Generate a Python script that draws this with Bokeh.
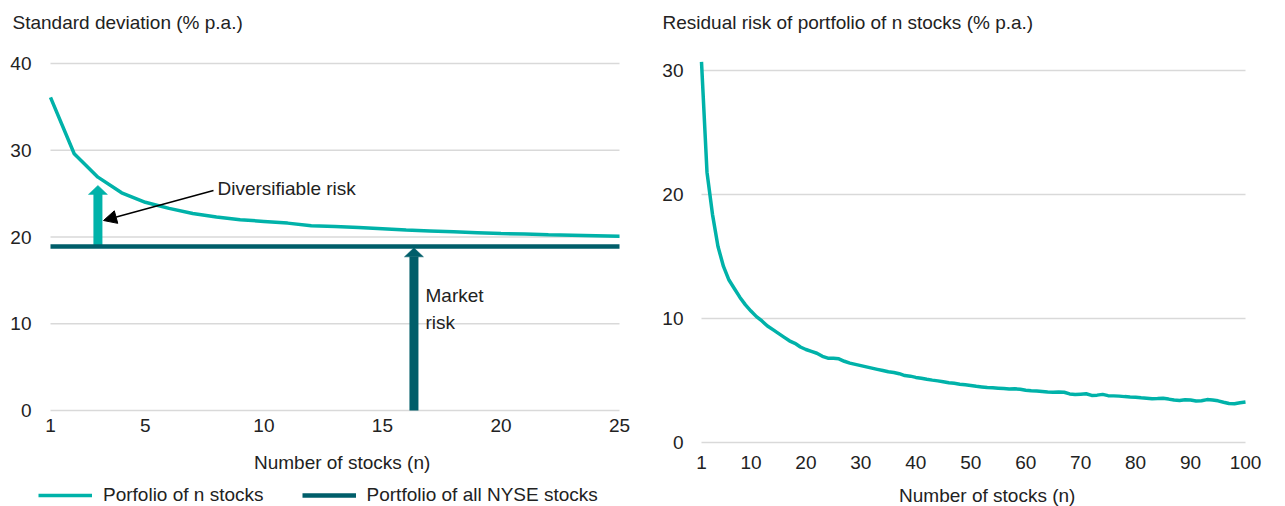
from bokeh.plotting import figure
from bokeh.models import Legend, LegendItem, Arrow, NormalHead, Range1d
from bokeh.core.properties import value
from bokeh.embed import file_html
from bokeh.resources import INLINE

# ---------------- data ----------------
n_left = list(range(1, 26))
sd_portfolio = [36.1, 29.6, 26.9, 25.1, 24.0, 23.3, 22.7, 22.3, 22.0, 21.8,
                21.6, 21.3, 21.2, 21.1, 20.95, 20.8, 20.7, 20.6, 20.5, 20.4,
                20.35, 20.25, 20.2, 20.15, 20.1]
sd_market = 18.9
left_xticks = [1, 5, 10, 15, 20, 25]
left_yticks = [0, 10, 20, 30, 40]

n_right = list(range(1, 101))
residual = [30.7, 21.8, 18.4, 15.8, 14.2, 13.1, 12.4, 11.7, 11.1, 10.6,
            10.15, 9.8, 9.4, 9.1, 8.8, 8.5, 8.2, 8.0, 7.7, 7.5,
            7.35, 7.2, 6.95, 6.8, 6.8, 6.75, 6.55, 6.4, 6.3, 6.2,
            6.1, 6.0, 5.9, 5.8, 5.7, 5.65, 5.55, 5.4, 5.35, 5.25,
            5.18, 5.1, 5.03, 4.97, 4.9, 4.82, 4.77, 4.7, 4.65, 4.6,
            4.53, 4.48, 4.43, 4.41, 4.38, 4.35, 4.31, 4.33, 4.3, 4.22,
            4.18, 4.15, 4.12, 4.08, 4.06, 4.08, 4.05, 3.92, 3.87, 3.9,
            3.93, 3.8, 3.82, 3.88, 3.78, 3.76, 3.74, 3.7, 3.67, 3.65,
            3.6, 3.56, 3.52, 3.54, 3.57, 3.5, 3.42, 3.39, 3.45, 3.42,
            3.35, 3.37, 3.46, 3.42, 3.36, 3.25, 3.15, 3.13, 3.2, 3.26]
right_xticks = [1, 10, 20, 30, 40, 50, 60, 70, 80, 90, 100]
right_yticks = [0, 10, 20, 30]

left_title = "Standard deviation (% p.a.)"
right_title = "Residual risk of portfolio of n stocks (% p.a.)"
x_title = "Number of stocks (n)"
legend_labels = ["Porfolio of n stocks", "Portfolio of all NYSE stocks"]

# annotation anchors (chart units of the left panel)
div_arrow_n, div_arrow_top = 3, 25.95
mkt_arrow_n, mkt_arrow_top = 16.33, 18.75

TEAL = "#00B2A9"
DARK = "#005E6A"
GRID = "#d9d9d9"
TXT = "#222222"
FONT = "Liberation Sans"
FS = "19px"

# ---------------- layout (page pixels) ----------------
W, H, PAGE = 1285, 506, 0
L_X1, L_X25 = 50, 619      # left panel: n=1 / n=25
L_Y0, L_Y40 = 410, 63      # left panel: 0 / 40
R_X1, R_X100 = 701, 1245   # right panel: n=1 / n=100
R_Y0, R_Y30 = 442, 70      # right panel: 0 / 30
L_PPX = (L_X25 - L_X1) / 24.0
L_PPY = (L_Y0 - L_Y40) / 40.0
R_PPX = (R_X100 - R_X1) / 99.0
R_PPY = (R_Y0 - R_Y30) / 30.0


def lx(px): return 1 + (px - L_X1) / L_PPX
def ly(py): return (L_Y0 - py) / L_PPY
def rx(px): return 1 + (px - R_X1) / R_PPX
def ry(py): return (R_Y0 - py) / R_PPY


left_edge, right_edge, top_edge, bottom_edge = PAGE, PAGE + W, PAGE, PAGE + H

p = figure(width=W, height=H, output_backend="svg", toolbar_location=None,
           x_range=Range1d(lx(left_edge), lx(right_edge)),
           y_range=Range1d(ly(bottom_edge), ly(top_edge)),
           x_axis_location=None, y_axis_location=None, min_border=0)
p.outline_line_color = None
p.xgrid.visible = False
p.ygrid.visible = False
p.extra_x_ranges = {"rx": Range1d(rx(left_edge), rx(right_edge))}
p.extra_y_ranges = {"ry": Range1d(ry(bottom_edge), ry(top_edge))}
R = dict(x_range_name="rx", y_range_name="ry")

txt = dict(text_font=value(FONT), text_font_size=value(FS), text_color=TXT, text_baseline="middle")

# ---- gridlines ----
p.segment(x0=[left_xticks[0]] * len(left_yticks), x1=[left_xticks[-1]] * len(left_yticks),
          y0=left_yticks, y1=left_yticks, line_color=GRID, line_width=1.3)
p.segment(x0=[right_xticks[0]] * len(right_yticks), x1=[right_xticks[-1]] * len(right_yticks),
          y0=right_yticks, y1=right_yticks, line_color=GRID, line_width=1.3, **R)

# ---- left panel tick labels / titles ----
p.text(x=[lx(L_X1 - 19)] * len(left_yticks), y=left_yticks, text=[str(t) for t in left_yticks],
       text_align="right", **txt)
p.text(x=left_xticks, y=[ly(L_Y0 + 15)] * len(left_xticks), text=[str(t) for t in left_xticks],
       text_align="center", **txt)
p.text(x=[13.3], y=[ly(L_Y0 + 52)], text=[x_title], text_align="center", **txt)
p.text(x=[lx(12)], y=[ly(22)], text=[left_title], text_align="left", **txt)

# ---- right panel tick labels / titles ----
p.text(x=[rx(R_X1 - 18)] * len(right_yticks), y=right_yticks, text=[str(t) for t in right_yticks],
       text_align="right", **txt, **R)
p.text(x=right_xticks, y=[ry(R_Y0 + 20)] * len(right_xticks), text=[str(t) for t in right_xticks],
       text_align="center", **txt, **R)
p.text(x=[53], y=[ry(R_Y0 + 53)], text=[x_title], text_align="center", **txt, **R)
p.text(x=[rx(662)], y=[ry(22)], text=[right_title], text_align="left", **txt, **R)


# ---- block arrows ----
def block_arrow(x, y0, y1, color, shaft=9, head_w=19, head_h=9):
    hh = head_h / L_PPY
    hw = head_w / 2 / L_PPX
    p.segment(x0=[x], y0=[y0], x1=[x], y1=[y1 - hh + 0.05], line_width=shaft, line_color=color,
              line_cap="butt")
    p.patch(x=[x - hw, x + hw, x], y=[y1 - hh, y1 - hh, y1], fill_color=color, line_color=color,
            line_width=0.5)


block_arrow(div_arrow_n, sd_market, div_arrow_top, TEAL)
block_arrow(mkt_arrow_n, 0, mkt_arrow_top, DARK)

# ---- series ----
r_mkt = p.line(x=[n_left[0], n_left[-1]], y=[sd_market, sd_market], line_color=DARK, line_width=4.5)
r_port = p.line(x=n_left, y=sd_portfolio, line_color=TEAL, line_width=3.5)
p.line(x=n_right, y=residual, line_color=TEAL, line_width=3.5, **R)

# ---- annotations ----
p.add_layout(Arrow(end=NormalHead(size=13, fill_color="black", line_color="black"),
                   x_start=lx(213), y_start=ly(190), x_end=lx(103), y_end=ly(220),
                   line_color="black", line_width=1.5))
p.text(x=[lx(217)], y=[ly(188)], text=["Diversifiable risk"], text_align="left", **txt)
p.text(x=[lx(425), lx(425)], y=[ly(295), ly(322)], text=["Market", "risk"], text_align="left", **txt)

# ---- legend ----
legend = Legend(items=[LegendItem(label=legend_labels[0], renderers=[r_port]),
                       LegendItem(label=legend_labels[1], renderers=[r_mkt])],
                orientation="horizontal", location=(38, 0),
                label_text_font=FONT, label_text_font_size=FS, label_text_color=TXT,
                glyph_width=54, glyph_height=20, label_standoff=11, spacing=38,
                padding=0, margin=0, border_line_color=None, background_fill_alpha=0)
p.add_layout(legend)

open("out.html", "w").write(file_html(p, INLINE))
